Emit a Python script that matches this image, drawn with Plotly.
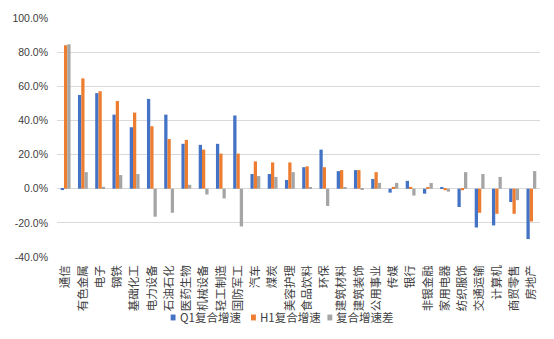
import plotly.graph_objects as go

# Industry categories (申万一级)
categories = ["通信", "有色金属", "电子", "钢铁", "基础化工", "电力设备", "石油石化", "医药生物",
              "机械设备", "轻工制造", "国防军工", "汽车", "煤炭", "美容护理", "食品饮料", "环保",
              "建筑材料", "建筑装饰", "公用事业", "传媒", "银行", "非银金融", "家用电器", "纺织服饰",
              "交通运输", "计算机", "商贸零售", "房地产"]

# Compound growth rates (%)
q1_growth = [-0.8, 54.9, 56.0, 43.4, 36.0, 52.6, 43.4, 26.3,
             25.7, 26.3, 42.9, 8.6, 8.6, 5.1, 12.6, 22.9,
             10.3, 10.9, 5.7, -2.3, 4.6, -2.9, 0.6, -10.7,
             -22.7, -21.5, -7.8, -29.5]
h1_growth = [84.0, 64.6, 57.1, 51.4, 44.6, 36.6, 29.1, 28.6,
             22.9, 20.6, 20.6, 16.0, 15.4, 15.4, 13.1, 12.6,
             10.9, 10.9, 9.7, 1.1, 1.1, 0.6, -0.9, -0.9,
             -14.1, -14.7, -14.7, -19.2]
growth_diff = [84.6, 9.7, 1.1, 8.0, 8.6, -16.4, -14.1, 2.3,
               -3.4, -5.7, -22.1, 7.4, 6.9, 9.7, 0.6, -10.1,
               0.6, -0.4, 3.4, 3.4, -4.0, 3.4, -1.7, 9.7,
               8.6, 6.9, -6.7, 10.3]

series_names = ["Q1复合增速", "H1复合增速", "复合增速差"]
series_colors = ["#4472C4", "#ED7D31", "#A5A5A5"]
series_values = [q1_growth, h1_growth, growth_diff]

y_ticks = [-40, -20, 0, 20, 40, 60, 80, 100]
y_tick_labels = ["-40.0%", "-20.0%", "0.0%", "20.0%", "40.0%", "60.0%", "80.0%", "100.0%"]

font_cn = "Noto Sans CJK SC, Microsoft YaHei, sans-serif"
text_color = "#404040"

fig = go.Figure()
for name, color, vals in zip(series_names, series_colors, series_values):
    fig.add_trace(go.Bar(x=categories, y=vals, name=name, marker_color=color,
                         marker_line_width=0, showlegend=False))

fig.update_layout(
    width=554, height=339,
    margin=dict(l=47, r=14, t=12, b=82),
    paper_bgcolor="white", plot_bgcolor="white",
    barmode="group", bargap=0.43, bargroupgap=0,
    font=dict(family=font_cn, color=text_color),
)
fig.update_xaxes(
    tickangle=-90, tickfont=dict(size=11.5, color=text_color, family=font_cn),
    showgrid=False, showline=False, ticks="", ticklen=0, ticklabelstandoff=5,
)
fig.update_yaxes(
    range=[-40, 100], tickvals=y_ticks, ticktext=y_tick_labels,
    tickfont=dict(size=10.5, color=text_color, family="Liberation Sans, Arial, sans-serif"),
    showgrid=True, gridcolor="#D9D9D9", gridwidth=1,
    zeroline=True, zerolinecolor="#D9D9D9", zerolinewidth=1,
    showline=False, ticks="", ticklabelstandoff=8,
)

# Compact legend row below the axis labels
legend_x = [163, 245, 323]
for name, color, lx in zip(series_names, series_colors, legend_x):
    fig.add_shape(type="rect", xref="paper", yref="paper",
                  x0=(lx - 47) / 493, x1=(lx + 5 - 47) / 493,
                  y0=(257 - 322) / 245, y1=(257 - 316) / 245,
                  fillcolor=color, line_width=0)
    fig.add_annotation(text=name, xref="paper", yref="paper",
                       x=(lx + 7 - 47) / 493, y=(257 - 319) / 245,
                       xanchor="left", yanchor="middle", showarrow=False,
                       font=dict(size=11.5, color=text_color, family=font_cn))

fig.write_html("out.html")
